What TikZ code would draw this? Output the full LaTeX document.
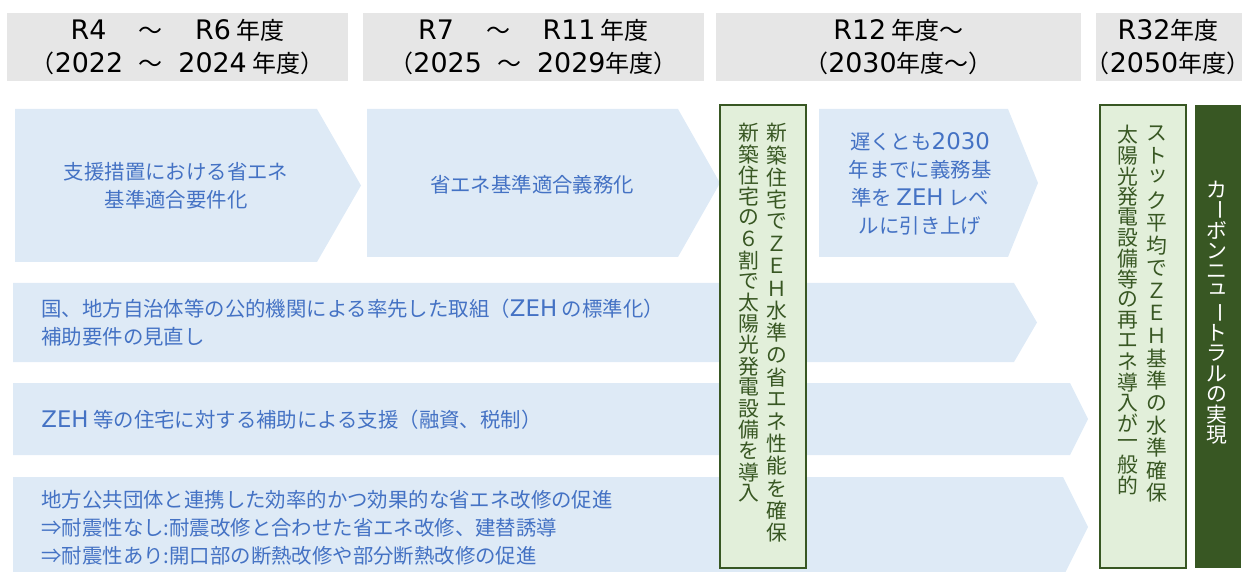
\documentclass[tikz,border=0pt]{standalone}
\usepackage{fontspec}
\setmainfont{Noto Sans CJK JP}
\newfontfamily\widefont{DejaVu Sans}[Scale=1.12]
\usepackage{graphicx}

\definecolor{hdrgray}{HTML}{E6E6E6}
\definecolor{chevblue}{HTML}{DEEAF6}
\definecolor{txtblue}{HTML}{4472C4}
\definecolor{leafgreen}{HTML}{E2EFDA}
\definecolor{darkgreen}{HTML}{385723}

\newcommand{\lat}[1]{{\widefont #1}}
\newcommand{\kakko}[1]{\kern-.4em（#1）\kern-.4em}
\newcommand{\nami}[1]{\hspace{#1}～\hspace{#1}}
\newcommand{\chou}{\rotatebox[origin=c]{-90}{ー}}
\newcommand{\kogaki}[1]{\raisebox{0.22em}{\hspace{0.12em}#1}}
% one column of vertical text: [colour]{name}{x}{first y}{pitch}{chars}
\newcommand{\tatecol}[6][darkgreen]{%
  \foreach \ch [count=\k from 0] in {#6}
    \node[tate, text=#1] (#2-\k) at ({#3},{#4+\k*#5}) {\ch};}

\begin{document}
\begin{tikzpicture}[x=0.5pt, y=-0.5pt,
    hdrtxt/.style={inner sep=0pt, align=center, font=\fontsize{12}{16.5}\selectfont},
    btxt/.style={inner sep=0pt, align=center, text=txtblue, font=\fontsize{10.2}{14}\selectfont},
    ltxt/.style={btxt, align=left, anchor=west},
    tate/.style={inner sep=0pt, font=\fontsize{10.4}{10.4}\selectfont},
    goal/.style={draw=darkgreen, line width=1.2pt, fill=leafgreen}]
    \useasboundingbox (0,0) rectangle (1242,572);

    % year headers
    \fill[hdrgray] (7,13) rectangle (348,81);
    \fill[hdrgray] (363,13) rectangle (704,81);
    \fill[hdrgray] (716,13) rectangle (1081,81);
    \fill[hdrgray] (1096,13) rectangle (1242,81);
    \node[hdrtxt] (h1) at (177.5,47) {\lat{R4}\nami{1.35em}\lat{R6} 年度\\\kakko{\lat{2022}\nami{.65em}\lat{2024} 年度}};
    \node[hdrtxt] (h2) at (533.5,47) {\lat{R7}\nami{1.35em}\lat{R11} 年度\\\kakko{\lat{2025}\nami{.65em}\lat{2029}年度}};
    \node[hdrtxt] (h3) at (898.5,47) {\lat{R12} 年度～\\\kakko{\lat{2030}年度～}};
    \node[hdrtxt] (h4) at (1168,47) {\lat{R32}年度\\\kakko{\lat{2050}年度}};

    % new houses
    \fill[chevblue] (15,109) -- (317,109) -- (361,185.5) -- (317,262) -- (15,262) -- cycle;
    \fill[chevblue] (367,109) -- (678,109) -- (720,183) -- (678,257) -- (367,257) -- cycle;
    \fill[chevblue] (819,109) -- (1008,109) -- (1038,183) -- (1008,257) -- (819,257) -- cycle;
    \node[btxt] (c1) at (176,186) {支援措置における省エネ\\基準適合要件化};
    \node[btxt] (c2) at (532,185) {省エネ基準適合義務化};
    \node[btxt] (c3) at (920,184) {遅くとも\lat{2030}\\年までに義務基\\準を \lat{ZEH} レベ\\ルに引き上げ};

    % long rows
    \fill[chevblue] (13,283) -- (1014,283) -- (1037,322.5) -- (1014,362) -- (13,362) -- cycle;
    \fill[chevblue] (13,383) -- (1070,383) -- (1088,419) -- (1070,455) -- (13,455) -- cycle;
    \fill[chevblue] (13,477) -- (1063,477) -- (1088,527) -- (1063,577) -- (13,577) -- cycle;
    \node[ltxt] (r1) at (41,323) {国、地方自治体等の公的機関による率先した取組（\lat{ZEH} の標準化）\\補助要件の見直し};
    \node[ltxt] (r2) at (41,420) {\lat{ZEH} 等の住宅に対する補助による支援（融資、税制）};
    \node[ltxt] (r3) at (41,528) {地方公共団体と連携した効率的かつ効果的な省エネ改修の促進\\⇒耐震性なし:耐震改修と合わせた省エネ改修、建替誘導\\⇒耐震性あり:開口部の断熱改修や部分断熱改修の促進};

    % targets
    \draw[goal] (720,105) rectangle (806,568);
    \draw[goal] (1100,105) rectangle (1186,568);
    \fill[darkgreen] (1195,105) rectangle (1241,568);
    \tatecol{g1r}{777}{133}{22.2}{新,築,住,宅,で,Ｚ,Ｅ,Ｈ,水,準,の,省,エ,ネ,性,能,を,確,保}
    \tatecol{g1l}{749}{133}{21.2}{新,築,住,宅,の,６,割,で,太,陽,光,発,電,設,備,を,導,入}
    \tatecol{g2r}{1157}{133}{22.5}{ス,ト,\kogaki{ッ},ク,平,均,で,Ｚ,Ｅ,Ｈ,基,準,の,水,準,確,保}
    \tatecol{g2l}{1128}{135}{20.6}{太,陽,光,発,電,設,備,等,の,再,エ,ネ,導,入,が,一,般,的}
    \tatecol[white]{cn}{1217}{190}{20.4}{カ,\chou,ボ,ン,ニ,\kogaki{ュ},\chou,ト,ラ,ル,の,実,現}
\end{tikzpicture}
\end{document}
